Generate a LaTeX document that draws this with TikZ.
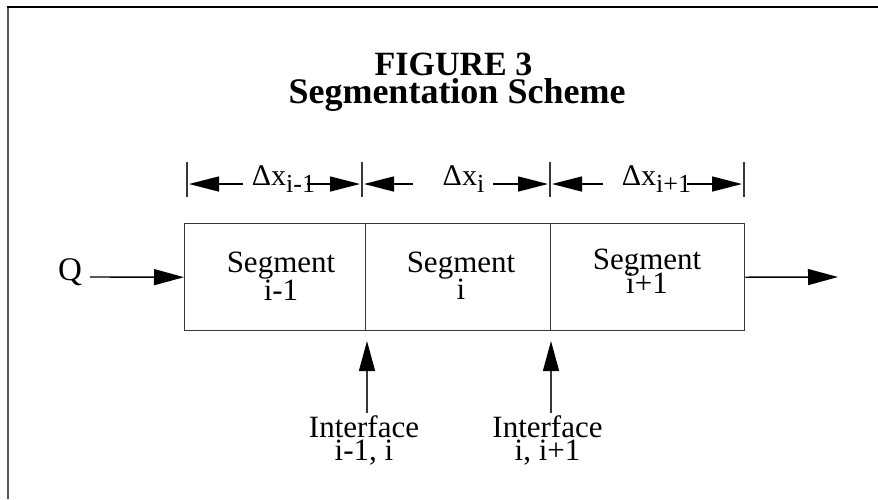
\documentclass[tikz,border=0pt]{standalone}
\usepackage{fontspec}
\setmainfont{Liberation Serif}
\usetikzlibrary{arrows.meta}
\definecolor{linegray}{HTML}{383838}
\definecolor{framegray}{HTML}{555555}
% lowered, slightly smaller index after a symbol
\newcommand\lowidx[1]{\raisebox{-7pt}{\fontsize{26}{26}\selectfont #1}}

\begin{document}
\begin{tikzpicture}[x=1pt,y=-1pt,
  lbl/.style={anchor=base, inner sep=0pt, font=\fontsize{31}{31}\selectfont},
  dimlbl/.style={anchor=base, inner sep=0pt, font=\fontsize{30}{30}\selectfont},
  ttl/.style={anchor=base, inner sep=0pt, font=\bfseries\fontsize{34}{34}\selectfont},
  segbox/.style={draw=linegray, line width=1.4pt, anchor=north west, inner sep=0pt, minimum height=107pt},
  arr/.style={black, line width=1.4pt, -{Triangle[length=30pt,width=16pt]}},
  uparr/.style={linegray, line width=1.4pt, -{Triangle[length=30pt,width=16pt,color=black]}},
  dimarr/.style={black, line width=1.4pt, -{Triangle[length=30pt,width=15pt]}},
  tickmark/.style={draw=linegray, line width=1.4pt}]
\useasboundingbox (0,0) rectangle (878,499);

% frame
\draw[framegray, line width=2.5pt] (8,499) -- (8,7);
\draw[black, line width=2pt] (7,7) -- (878,7);

% title
\node[ttl] (title1) at (453.5,75) {FIGURE 3};
\node[ttl, font=\bfseries\fontsize{36}{36}\selectfont] (title2) at (457,103) {Segmentation Scheme};

% segments
\node[segbox, minimum width=181pt] (s1) at (184,223) {};
\node[segbox, minimum width=185pt] (s2) at (365,223) {};
\node[segbox, minimum width=194pt] (s3) at (550,223) {};

\node[lbl] (s1a) at (281,272) {Segment};
\node[lbl] (s1b) at (281,300) {i-1};
\node[lbl] (s2a) at (461,272) {Segment};
\node[lbl] (s2b) at (461,299) {i};
\node[lbl] (s3a) at (647,269) {Segment};
\node[lbl] (s3b) at (647,293) {i+1};

% inflow and outflow
\node[lbl, font=\fontsize{33}{33}\selectfont] (q) at (70,280) {Q};
\coordinate (qstart) at (90,277);
\coordinate (outend) at (838,277);
\draw[arr] (qstart) -- (s1.west);
\draw[arr] (s3.east) -- (outend);

% segment lengths
\foreach \n/\x in {t0/187,t1/362,t2/550,t3/744}{
  \coordinate (\n top) at (\x,162);
  \coordinate (\n bot) at (\x,197);
  \draw[tickmark] (\n top) -- (\n bot);
}
\node[dimlbl] (d1) at (283.5,185) {Δx\lowidx{i-1}};
\node[dimlbl] (d2) at (463.5,185) {Δx\lowidx{i}};
\node[dimlbl] (d3) at (656.5,185) {Δx\lowidx{i+1}};

\coordinate (d1l) at (243,184); \coordinate (d1lt) at (189,184);
\coordinate (d1r) at (307,184); \coordinate (d1rt) at (360,184);
\coordinate (d2l) at (413,184); \coordinate (d2lt) at (364,184);
\coordinate (d2r) at (493,184); \coordinate (d2rt) at (548,184);
\coordinate (d3l) at (603,184); \coordinate (d3lt) at (552,184);
\coordinate (d3r) at (687,184); \coordinate (d3rt) at (742,184);
\foreach \a/\b in {d1l/d1lt,d1r/d1rt,d2l/d2lt,d2r/d2rt,d3l/d3lt,d3r/d3rt}
  \draw[dimarr] (\a) -- (\b);

% interfaces
\node[lbl] (ifa1) at (364,437) {Interface};
\node[lbl] (ifa2) at (364,460) {i-1, i};
\node[lbl] (ifb1) at (547.5,437) {Interface};
\node[lbl] (ifb2) at (547.5,460) {i, i+1};
\coordinate (ifaS) at (367,413); \coordinate (ifaT) at (367,341);
\coordinate (ifbS) at (551,413); \coordinate (ifbT) at (551,341);
\draw[uparr] (ifaS) -- (ifaT);
\draw[uparr] (ifbS) -- (ifbT);
\end{tikzpicture}
\end{document}
